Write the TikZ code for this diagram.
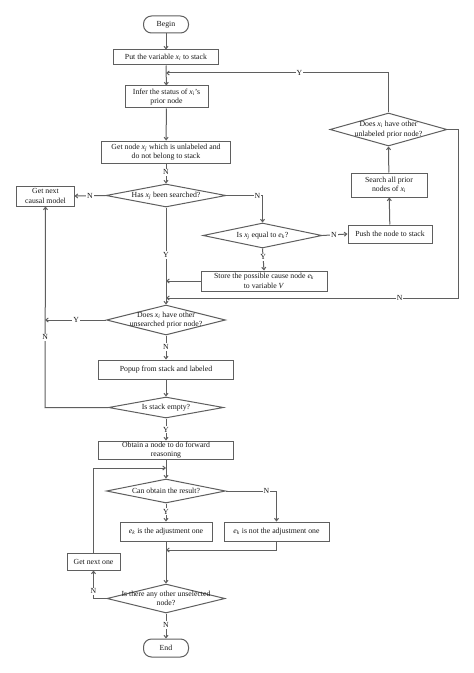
\documentclass[tikz,border=0pt]{standalone}
\usepackage{fontspec}
\setmainfont{Liberation Serif}
\usetikzlibrary{shapes.geometric,arrows.meta}
\definecolor{ln}{RGB}{95,95,95}
\definecolor{tx}{RGB}{25,25,25}
\newcommand{\vr}[2]{\textit{#1}\textsubscript{\textit{#2}}}
\begin{document}
\begin{tikzpicture}[x=1bp,y=-1bp,
  font=\fontsize{7.8}{9.6}\selectfont, text=tx,
  box/.style={draw=ln, line width=1bp, fill=white, inner sep=0pt, align=center},
  term/.style={box, rounded corners=8bp},
  dia/.style={diamond, draw=ln, line width=1bp, fill=white, inner sep=0pt},
  dlab/.style={align=center, inner sep=0pt, text=tx},
  lnk/.style={draw=ln, line width=1bp},
  arr/.style={lnk, -{Straight Barb[length=2.5bp,width=4bp]}},
  yn/.style={fill=white, inner sep=1pt, text=tx}]
\fill[white] (0,0) rectangle (474,673);
\useasboundingbox (0,0) rectangle (474,673);

% nodes
\node[term, minimum width=45bp, minimum height=17bp] (begin) at (166,24.5) {Begin};
\node[box, minimum width=105bp, minimum height=15bp] (put) at (166,57.5) {Put the variable \vr{x}{i} to stack};
\node[box, minimum width=83bp, minimum height=22bp] (infer) at (166.5,97) {Infer the status of \vr{x}{i}'s\\prior node};
\node[box, minimum width=129bp, minimum height=22bp] (getnode) at (166,152) {Get node \vr{x}{j} which is unlabeled and\\do not belong to stack};
\node[dia, minimum width=120bp, minimum height=23bp, label={[dlab]center:{Has \vr{x}{j} been searched?}}] (searched) at (166,195.5) {};
\node[box, minimum width=57bp, minimum height=20bp] (nextmodel) at (45.5,196) {Get next\\causal model};
\node[dia, minimum width=119bp, minimum height=25bp, label={[dlab]center:{Is \vr{x}{j} equal to \vr{e}{k}?}}] (equal) at (262.5,235.5) {};
\node[box, minimum width=84bp, minimum height=18bp] (push) at (390,234) {Push the node to stack};
\node[box, minimum width=76bp, minimum height=24bp] (search) at (389,185) {Search all prior\\nodes of \vr{x}{i}};
\node[dia, minimum width=117bp, minimum height=33bp, label={[dlab]center:{Does \vr{x}{i} have other\\unlabeled prior node?}}] (unlab) at (388.5,129.5) {};
\node[box, minimum width=126bp, minimum height=20bp] (store) at (264,281) {Store the possible cause node \vr{e}{k}\\to variable \textit{V}};
\node[dia, minimum width=119bp, minimum height=30bp, label={[dlab]center:{Does \vr{x}{i} have other\\unsearched prior node?}}] (unsearched) at (166,320) {};
\node[box, minimum width=135bp, minimum height=19bp] (popup) at (166,369.5) {Popup from stack and labeled};
\node[dia, minimum width=115bp, minimum height=21bp, label={[dlab]center:{Is stack empty?}}] (empty) at (166,407.5) {};
\node[box, minimum width=135bp, minimum height=18bp] (obtain) at (166,450) {Obtain a node to do forward\\reasoning};
\node[dia, minimum width=119bp, minimum height=24bp, label={[dlab]center:{Can obtain the result?}}] (canobtain) at (166,491) {};
\node[box, minimum width=92bp, minimum height=19bp] (isadj) at (166,531.5) {\vr{e}{k} is the adjustment one};
\node[box, minimum width=105bp, minimum height=19bp] (notadj) at (276.5,531.5) {\vr{e}{k} is not the adjustment one};
\node[dia, minimum width=118bp, minimum height=29bp, label={[dlab]center:{Is there any other unselected\\node?}}] (unselected) at (166,598.5) {};
\node[box, minimum width=53bp, minimum height=17bp] (nextone) at (93.5,561.5) {Get next one};
\node[term, minimum width=45bp, minimum height=18bp] (end) at (166,648) {End};

% junction points
\coordinate (j1) at (166,73);
\coordinate (j2) at (166,281);
\coordinate (j3) at (166,298);
\coordinate (j4) at (45,320);
\coordinate (j5) at (166,468);
\coordinate (j6) at (166,550);
\coordinate (c1) at (458,129.5);
\coordinate (c2) at (458,298);
\coordinate (c3) at (45,407.5);

% connectors
\draw[arr] (begin) -- (put);
\draw[arr] (put) -- (infer);
\draw[arr] (unlab.north) |- node[yn,pos=0.7]{Y} (j1);
\draw[arr] (infer) -- (getnode);
\draw[arr] (getnode) -- node[yn,pos=0.43]{N} (searched.north);
\draw[arr] (searched.west) -- node[yn,pos=0.5]{N} (nextmodel.east);
\draw[arr] (searched.east) -| node[yn,pos=0.43]{N} (equal.north);
\draw[arr] (equal.east) -- node[yn,pos=0.46]{N} (push.west);
\draw[arr] (push) -- (search);
\draw[arr] (search) -- (unlab.south);
\draw[arr] (unlab.east) -- (c1) -- (c2) -- node[yn,pos=0.2]{N} (j3);
\draw[arr] (equal.south) -- node[yn,pos=0.4]{Y} (store.north);
\draw[arr] (store.west) -- (j2);
\draw[arr] (searched.south) -- node[yn,pos=0.49]{Y} (unsearched.north);
\draw[arr] (unsearched.west) -- node[yn,pos=0.49]{Y} (j4);
\draw[arr] (empty.west) -- (c3) -- node[yn,pos=0.35]{N} (nextmodel.south);
\draw[arr] (unsearched.south) -- node[yn,pos=0.48]{N} (popup.north);
\draw[arr] (popup) -- (empty.north);
\draw[arr] (empty.south) -- node[yn,pos=0.5]{Y} (obtain.north);
\draw[arr] (obtain) -- (canobtain.north);
\draw[arr] (nextone.north) |- (j5);
\draw[arr] (canobtain.east) -| node[yn,pos=0.4]{N} (notadj.north);
\draw[arr] (canobtain.south) -- node[yn,pos=0.45]{Y} (isadj.north);
\draw[arr] (notadj.south) |- (j6);
\draw[arr] (isadj) -- (unselected.north);
\draw[arr] (unselected.west) -| node[yn,pos=0.63]{N} (nextone.south);
\draw[arr] (unselected.south) -- node[yn,pos=0.46]{N} (end.north);
\end{tikzpicture}
\end{document}
